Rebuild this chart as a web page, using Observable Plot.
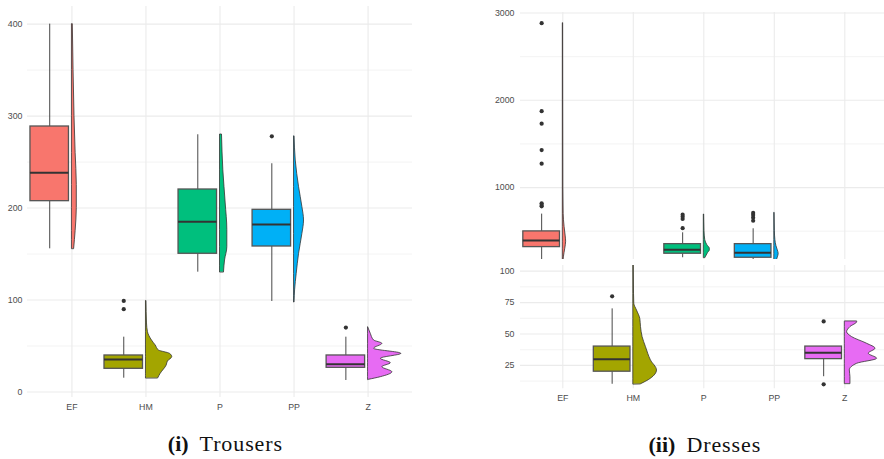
<!DOCTYPE html>
<html>
<head>
<meta charset="utf-8">
<script src="https://cdn.jsdelivr.net/npm/d3@7"></script>
<script src="https://cdn.jsdelivr.net/npm/@observablehq/plot@0.6"></script>
<style>
  html, body { margin: 0; padding: 0; background: #fff; }
  #wrap { position: relative; width: 884px; height: 459px; overflow: hidden; background: #fff; }
  .panel { position: absolute; }
  .cap { position: absolute; font-family: "Liberation Serif", serif; font-size: 22px; color: #111; white-space: nowrap; transform: translateX(-50%); }
  .cap b { font-weight: bold; margin-right: 11px; }
  .cap span { letter-spacing: 0.9px; }
</style>
</head>
<body>
<div id="wrap"></div>
<script>
// Shop categories and their fill colours
const categories = ["EF", "HM", "P", "PP", "Z"];
const colors = ["#F8766D", "#A3A500", "#00BF7D", "#00B0F6", "#E76BF3"];

// Trousers: box statistics per category
const trousersLow    = [155.7, 15.0, 130.3, 98.4, 12.5];
const trousersQ1     = [207.5, 25.2, 150.3, 158.2, 26.3];
const trousersMedian = [238.4, 35.3, 185.0, 182.2, 30.2];
const trousersQ3     = [288.7, 39.7, 220.2, 198.1, 39.7];
const trousersHigh   = [400.0, 59.6, 279.7, 248.2, 59.6];
const trousersOutliers = [[], [90, 99], [], [278], [70]];

// Trousers: half-violin profiles as [value, half width in category units]
const trousersViolinEF = [[155.7,.03],[175,.05],[200,.066],[225,.066],[260,.05],[300,.035],[350,.022],[400,.012]];
const trousersViolinHM = [[15,.166],[19.8,.199],[28.8,.28],[33.2,.297],[37.9,.355],[41.5,.324],[45.1,.176],[50.6,.131],[56,.081],[65,.027],[74.5,.014],[99,.007]];
const trousersViolinP  = [[130.3,.054],[143,.068],[157.5,.099],[176,.099],[205,.077],[241,.045],[280,.027]];
const trousersViolinPP = [[97.7,.007],[110.4,.014],[128.5,.036],[150.3,.068],[172,.113],[186.5,.135],[201,.113],[222.7,.068],[251.7,.023],[278,.007]];
const trousersViolinZ  = [[13.3,.014],[16.1,.172],[21.5,.328],[27,.193],[31.3,.307],[36.1,.172],[41.5,.45],[47,.081],[52.4,.193],[56,.081],[63.3,.036],[70.5,0]];

// Dresses: box statistics per category
const dressesLow    = [150, 10, 196, 150, 16];
const dressesQ1     = [318, 20, 242, 196, 30];
const dressesMedian = [395, 30, 287, 253, 35];
const dressesQ3     = [498, 40, 352, 352, 40];
const dressesHigh   = [696, 70, 482, 528, 40];
const dressesOutliers = [[785, 800, 820, 1274, 1430, 1732, 1876, 2884], [80], [535, 640, 665, 690], [620, 655, 685, 710], [10, 60]];

// Dresses: half-violin profiles
const dressesViolinEF = [[150,.01],[200,.015],[300,.035],[380,.047],[450,.04],[550,.025],[700,.012],[1000,.008],[2000,.006],[2884,.005]];
const dressesViolinHM = [[10,.109],[14.4,.25],[21,.336],[29,.25],[39.5,.18],[47.5,.132],[55.5,.109],[62,.099],[68.7,.052],[74,.014],[82,.01],[104.5,.007],[110,.005]];
const dressesViolinP  = [[196,.025],[220,.04],[250,.06],[280,.085],[300,.085],[340,.05],[400,.02],[500,.01],[600,.007],[692,.005]];
const dressesViolinPP = [[150,.035],[176,.04],[200,.05],[240,.062],[280,.05],[330,.03],[400,.015],[500,.008],[711,.004]];
const dressesViolinZ  = [[10.4,.08],[15.7,.08],[21,.071],[26.3,.175],[30.3,.458],[34.3,.34],[38.3,.435],[42.2,.317],[47.5,.104],[51.5,.033],[55.5,.08],[59.4,.175],[60,.175]];

// Axis ticks and grid lines
const trousersMajor = [0, 100, 200, 300, 400];
const trousersMinor = [50, 150, 250, 350];
const dressesUpperMajor = [1000, 2000, 3000];
const dressesUpperMinor = [500, 1500, 2500];
const dressesLowerMajor = [25, 50, 75, 100];
const dressesLowerMinor = [12.5, 37.5, 62.5, 87.5];

function buildStats(low, q1, med, q3, high) {
  return categories.map((c, k) => ({i: k + 1, c, lo: low[k], q1: q1[k], med: med[k], q3: q3[k], hi: high[k]}));
}
function buildOutliers(list) {
  return list.flatMap((vals, k) => vals.map(v => ({i: k + 1, c: categories[k], v})));
}
function buildViolins(profiles) {
  return profiles.flatMap((prof, k) => prof.map(([v, w]) => ({i: k + 1, c: categories[k], v, w})));
}

const BOX_L = 0.56, BOX_R = 0.04, BOX_C = 0.3;

function panel(opts) {
  const {stats, outliers, violins, yDomain, major, minor, xDomain, showX,
         width, height, marginLeft, marginRight, marginTop, marginBottom, yPad} = opts;
  return Plot.plot({
    width, height, marginLeft, marginRight, marginTop, marginBottom,
    style: {fontFamily: "Liberation Sans, Arial, sans-serif", fontSize: "8.8px", color: "#4d4d4d", background: "transparent", overflow: "visible"},
    x: {domain: xDomain, axis: showX ? "bottom" : null, ticks: [1, 2, 3, 4, 5],
        tickFormat: d => categories[d - 1], tickSize: 0, tickPadding: 6, label: null},
    y: {domain: yDomain, ticks: major, tickFormat: d => String(d), tickSize: 0, tickPadding: yPad, label: null},
    color: {domain: categories, range: colors},
    marks: [
      Plot.ruleY(minor, {stroke: "#f0f0f0", strokeWidth: 0.8}),
      Plot.ruleY(major, {stroke: "#ebebeb", strokeWidth: 1.1}),
      Plot.ruleX([1, 2, 3, 4, 5], {stroke: "#ebebeb", strokeWidth: 1.1}),
      Plot.areaX(violins, {y: "v", x1: "i", x2: d => d.i + d.w, z: "c", fill: "c",
        stroke: "#333", strokeWidth: 0.8, curve: "monotone-y", clip: true}),
      Plot.ruleX(stats, {x: d => d.i - BOX_C, y1: "q3", y2: "hi", stroke: "#333", strokeWidth: 0.9, clip: true}),
      Plot.ruleX(stats, {x: d => d.i - BOX_C, y1: "lo", y2: "q1", stroke: "#333", strokeWidth: 0.9, clip: true}),
      Plot.rect(stats, {x1: d => d.i - BOX_L, x2: d => d.i - BOX_R, y1: "q1", y2: "q3", fill: "c",
        stroke: "#555", strokeWidth: 1.3, clip: true}),
      Plot.ruleY(stats, {y: "med", x1: d => d.i - BOX_L, x2: d => d.i - BOX_R, stroke: "#333", strokeWidth: 2, clip: true}),
      Plot.dot(outliers, {x: d => d.i - BOX_C, y: "v", r: 2.1, fill: "#333", stroke: "none", clip: true})
    ]
  });
}

const wrap = document.getElementById("wrap");
function place(node, left, top) {
  node.classList.add("panel");
  node.style.left = left + "px";
  node.style.top = top + "px";
  wrap.appendChild(node);
}

// (i) Trousers
const trousersStats = buildStats(trousersLow, trousersQ1, trousersMedian, trousersQ3, trousersHigh);
place(panel({
  stats: trousersStats,
  outliers: buildOutliers(trousersOutliers),
  violins: buildViolins([trousersViolinEF, trousersViolinHM, trousersViolinP, trousersViolinPP, trousersViolinZ]),
  yDomain: [-6.0, 419.2], major: trousersMajor, minor: trousersMinor,
  xDomain: [0.4, 5.6], showX: true, yPad: 5,
  width: 440, height: 420, marginLeft: 27, marginRight: 28, marginTop: 6, marginBottom: 23
}), 0, 0);

// (ii) Dresses, split into an upper and a lower value range
const dressesStats = buildStats(dressesLow, dressesQ1, dressesMedian, dressesQ3, dressesHigh);
const dressesDots = buildOutliers(dressesOutliers);
const dressesViolins = buildViolins([dressesViolinEF, dressesViolinHM, dressesViolinP, dressesViolinPP, dressesViolinZ]);
place(panel({
  stats: dressesStats, outliers: dressesDots, violins: dressesViolins,
  yDomain: [176, 3006], major: dressesUpperMajor, minor: dressesUpperMinor,
  xDomain: [0.4, 5.563], showX: false, yPad: 6,
  width: 444, height: 262, marginLeft: 80, marginRight: 0, marginTop: 12, marginBottom: 3
}), 440, 0);
place(panel({
  stats: dressesStats, outliers: dressesDots, violins: dressesViolins,
  yDomain: [6.4, 104.5], major: dressesLowerMajor, minor: dressesLowerMinor,
  xDomain: [0.4, 5.563], showX: true, yPad: 6,
  width: 444, height: 148, marginLeft: 80, marginRight: 0, marginTop: 3, marginBottom: 21.7
}), 440, 262);

// Sub-captions
function caption(label, name, cx, baseline) {
  const d = document.createElement("div");
  d.className = "cap";
  d.innerHTML = "<b>" + label + "</b><span>" + name + "</span>";
  d.style.left = cx + "px";
  d.style.top = (baseline - 20) + "px";
  wrap.appendChild(d);
}
caption("(i)", "Trousers", 225.4, 451);
caption("(ii)", "Dresses", 704.8, 451.7);
</script>
</body>
</html>
